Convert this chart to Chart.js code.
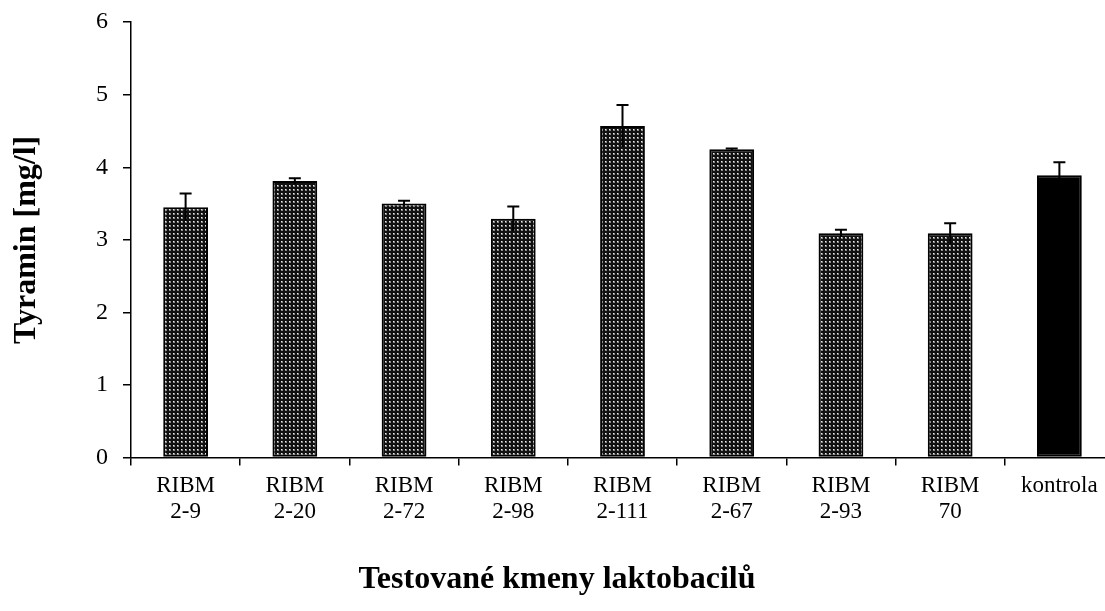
<!DOCTYPE html>
<html>
<head>
<meta charset="utf-8">
<script src="https://cdn.jsdelivr.net/npm/chart.js@4/dist/chart.umd.min.js"></script>
<style>
  html, body { margin: 0; padding: 0; background: #fff; overflow: hidden; }
  #wrap { width: 1114px; height: 611px; }
</style>
</head>
<body>
<div id="wrap"><canvas id="chart" width="1114" height="611"></canvas></div>
<script>
var kmeny = [["RIBM", "2-9"], ["RIBM", "2-20"], ["RIBM", "2-72"], ["RIBM", "2-98"], ["RIBM", "2-111"], ["RIBM", "2-67"], ["RIBM", "2-93"], ["RIBM", "70"], "kontrola"];
var tyramin = [3.45, 3.81, 3.50, 3.29, 4.57, 4.25, 3.09, 3.09, 3.89];
var chyba = [0.19, 0.04, 0.04, 0.17, 0.29, 0.01, 0.05, 0.14, 0.18];

// teckovany vzor pro sloupce
function makePattern() {
    var c = document.createElement("canvas");
    c.width = 4;
    c.height = 4;
    var x = c.getContext("2d");
    x.fillStyle = "#111";
    x.fillRect(0, 0, 4, 4);
    x.fillStyle = "#888";
    x.fillRect(1, 1, 2, 2);
    x.fillStyle = "#eee";
    x.fillRect(1, 1, 1, 1);
    return document.getElementById("chart").getContext("2d").createPattern(c, "repeat");
}

var vzor = makePattern();
var barvy = [];
for (var i = 0; i < tyramin.length; i++) {
    barvy.push(i == tyramin.length - 1 ? "#000" : vzor);
}

var errorBars = {
    id: "errorBars",
    afterDatasetsDraw: function(chart) {
        var ctx = chart.ctx;
        var meta = chart.getDatasetMeta(0);
        var y = chart.scales.y;
        ctx.save();
        ctx.strokeStyle = "#000";
        ctx.lineWidth = 2;
        meta.data.forEach(function(bar, i) {
            var top = y.getPixelForValue(tyramin[i] + chyba[i]);
            var bottom = y.getPixelForValue(tyramin[i] - chyba[i]);
            ctx.beginPath();
            ctx.moveTo(bar.x, bottom);
            ctx.lineTo(bar.x, top);
            ctx.moveTo(bar.x - 6, top);
            ctx.lineTo(bar.x + 6, top);
            ctx.stroke();
        });
        ctx.restore();
    }
};

var font = "'Liberation Serif', 'Times New Roman', serif";

new Chart(document.getElementById("chart"), {
    type: "bar",
    data: {
        labels: kmeny,
        datasets: [{
            data: tyramin,
            backgroundColor: barvy,
            borderColor: "#000",
            borderWidth: 2,
            borderSkipped: false,
            categoryPercentage: 1,
            barPercentage: 0.41
        }]
    },
    options: {
        responsive: false,
        animation: false,
        layout: { padding: { top: 22, left: 0, right: 0, bottom: 0 } },
        plugins: {
            legend: { display: false },
            tooltip: { enabled: false },
            title: {
                display: true,
                position: "bottom",
                text: "Testované kmeny laktobacilů",
                color: "#000",
                font: { family: font, size: 32, weight: "bold", lineHeight: 1.2 },
                padding: { top: 0, bottom: 12 }
            }
        },
        scales: {
            x: {
                grid: { offset: true, drawOnChartArea: false, tickLength: 8, color: "#000", lineWidth: 1.5 },
                border: { color: "#000", width: 1.5 },
                ticks: {
                    color: "#000",
                    maxRotation: 0,
                    autoSkip: false,
                    padding: 7,
                    font: { family: font, size: 23, lineHeight: 1.13 }
                },
                afterFit: function(scale) { scale.height = 103; }
            },
            y: {
                min: 0,
                max: 6,
                grid: { drawOnChartArea: false, tickLength: 8, color: "#000", lineWidth: 1.5 },
                border: { color: "#000", width: 1.5 },
                ticks: {
                    stepSize: 1,
                    color: "#000",
                    padding: 15,
                    font: { family: font, size: 24, lineHeight: 0.6 }
                },
                title: {
                    display: true,
                    text: "Tyramin [mg/l]",
                    color: "#000",
                    font: { family: font, size: 32, weight: "bold", lineHeight: 1.2 },
                    padding: { top: 8, bottom: 0 }
                },
                afterFit: function(scale) { scale.width = 131; }
            }
        }
    },
    plugins: [errorBars]
});
</script>
</body>
</html>
